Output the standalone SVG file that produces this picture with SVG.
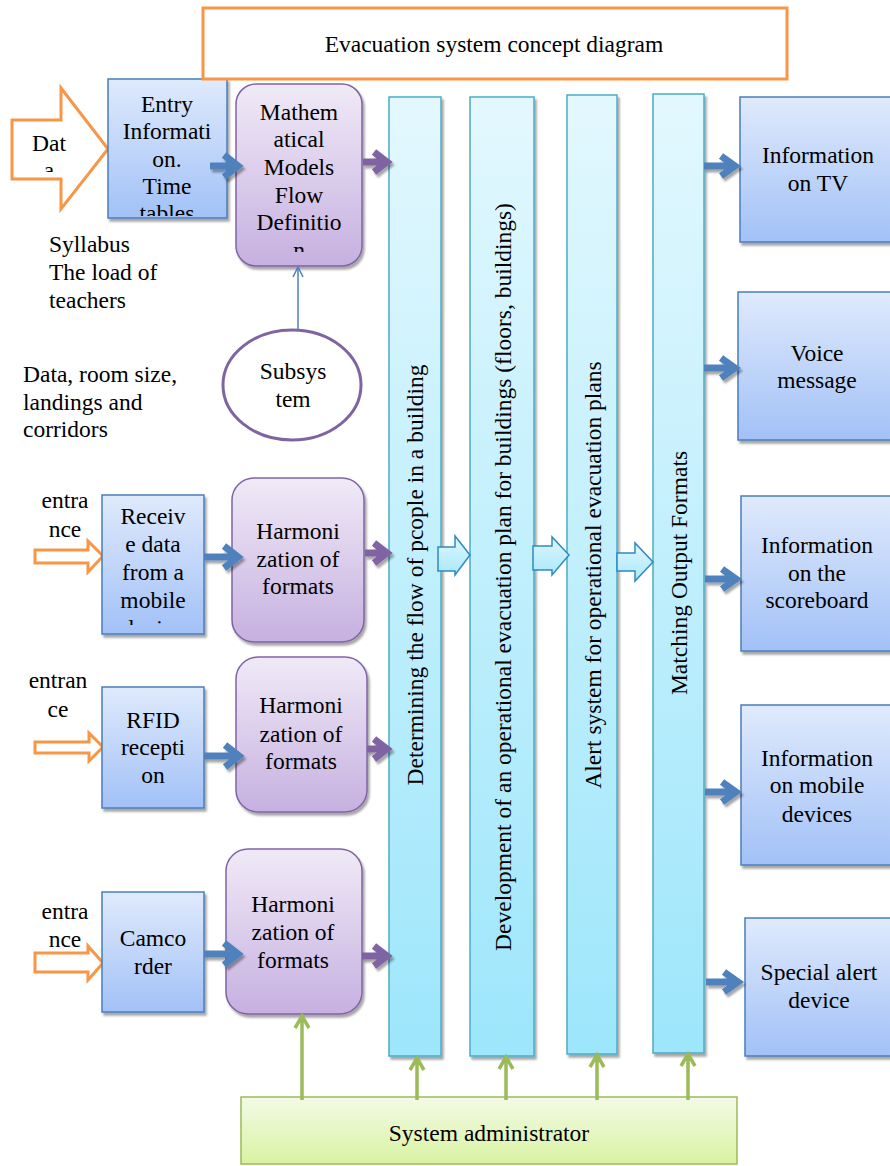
<svg xmlns="http://www.w3.org/2000/svg" width="890" height="1166" viewBox="0 0 890 1166" font-family="'Liberation Serif', Tinos, 'Times New Roman', 'DejaVu Serif', serif">
<defs>
<linearGradient id="gBlue" x1="0" y1="0" x2="0" y2="1"><stop offset="0" stop-color="#DFEAFC"/><stop offset="1" stop-color="#A2C1F7"/></linearGradient>
<linearGradient id="gPurple" x1="0" y1="0" x2="0" y2="1"><stop offset="0" stop-color="#F0EAF7"/><stop offset="1" stop-color="#C6B0E0"/></linearGradient>
<linearGradient id="gCyan" x1="0" y1="0" x2="0" y2="1"><stop offset="0" stop-color="#E3F8FE"/><stop offset="1" stop-color="#9DE6FB"/></linearGradient>
<linearGradient id="gGreen" x1="0" y1="0" x2="0" y2="1"><stop offset="0" stop-color="#F3FAE6"/><stop offset="1" stop-color="#D8F3A2"/></linearGradient>
<linearGradient id="gBlock" x1="0" y1="0" x2="0" y2="1"><stop offset="0" stop-color="#E0F7FE"/><stop offset="1" stop-color="#A8E8FB"/></linearGradient>
<filter id="sh" x="-10%" y="-10%" width="130%" height="130%"><feDropShadow dx="2" dy="3" stdDeviation="1.2" flood-color="#000" flood-opacity="0.35"/></filter>
<marker id="thinHead" viewBox="0 0 12 12" refX="11" refY="6" markerWidth="12" markerHeight="12" markerUnits="userSpaceOnUse" orient="auto"><path d="M1 1 L11 6 L1 11" fill="none" stroke="#4F81BD" stroke-width="1.5"/></marker>
<clipPath id="cDat"><rect x="12" y="120" width="90" height="52"/></clipPath>
<clipPath id="cEntry"><rect x="108" y="79" width="119" height="137"/></clipPath>
<clipPath id="cMath"><rect x="236" y="84" width="126" height="168"/></clipPath>
<clipPath id="cRecv"><rect x="102" y="495" width="102" height="130"/></clipPath>
</defs>
<style>
text{font-family:'Liberation Serif',Tinos,'Times New Roman','DejaVu Serif',serif;font-size:23.5px;fill:#000}
.c{text-anchor:middle}
.blue{fill:url(#gBlue);stroke:#4A7EBB;stroke-width:1.5}
.purple{fill:url(#gPurple);stroke:#8064A2;stroke-width:1.5}
.col{fill:url(#gCyan);stroke:#4BACC6;stroke-width:1.5}
.orange{fill:#fff;stroke:#F79646;stroke-width:3}
.ba{fill:none;stroke:#4F81BD;stroke-width:7}
.pa{fill:none;stroke:#8064A2;stroke-width:7}
.ga{fill:none;stroke:#9BBB59;stroke-width:3.5}
.blk{fill:url(#gBlock);stroke:#2F89C6;stroke-width:1.5}
</style>

<!-- Data arrow -->
<g id="dataArrow">
<polygon class="orange" points="12,120 61,120 61,88 108,149 61,209 61,179 12,179"/>
<g clip-path="url(#cDat)"><text class="c" x="49" y="151">Dat</text><text class="c" x="49" y="178">a</text></g>
</g>

<!-- Entry information -->
<g id="entryInfo">
<rect class="blue" x="108" y="79" width="119" height="139" filter="url(#sh)"/>
<g clip-path="url(#cEntry)">
<text class="c" x="167" y="112">Entry</text>
<text class="c" x="167" y="139">Informati</text>
<text class="c" x="167" y="167">on.</text>
<text class="c" x="167" y="194">Time</text>
<text class="c" x="167" y="221">tables</text>
</g>
</g>

<!-- Title -->
<g id="title">
<rect x="203" y="8" width="584" height="71" fill="#fff" stroke="#F79646" stroke-width="3"/>
<text class="c" x="494" y="52">Evacuation system concept diagram</text>
</g>

<!-- Math models -->
<g id="mathModels">
<rect class="purple" x="236" y="84" width="126" height="182" rx="20" filter="url(#sh)"/>
<g clip-path="url(#cMath)">
<text class="c" x="299" y="120">Mathem</text>
<text class="c" x="299" y="147">atical</text>
<text class="c" x="299" y="175">Models</text>
<text class="c" x="299" y="203">Flow</text>
<text class="c" x="299" y="230">Definitio</text>
<text class="c" x="299" y="258">n</text>
</g>
</g>

<!-- Free texts -->
<g id="syllabusText">
<text x="49" y="252">Syllabus</text>
<text x="49" y="280">The load of</text>
<text x="49" y="308">teachers</text>
</g>
<g id="roomText">
<text x="23" y="382">Data, room size,</text>
<text x="23" y="410">landings and</text>
<text x="23" y="437">corridors</text>
</g>

<!-- Subsystem -->
<g id="subsystem">
<ellipse cx="292" cy="385" rx="69" ry="55" fill="#fff" stroke="#8064A2" stroke-width="3"/>
<text class="c" x="293" y="379">Subsys</text>
<text class="c" x="293" y="407">tem</text>
</g>

<!-- Row 2 -->
<g id="entrance1">
<text class="c" x="65" y="508">entra</text>
<text class="c" x="65" y="537">nce</text>
<polygon class="orange" points="35,550 88,550 88,541 103,556 88,572 88,563 35,563"/>
</g>
<g id="receiveData">
<rect class="blue" x="102" y="495" width="102" height="139" filter="url(#sh)"/>
<g clip-path="url(#cRecv)">
<text class="c" x="153" y="524">Receiv</text>
<text class="c" x="153" y="552">e data</text>
<text class="c" x="153" y="580">from a</text>
<text class="c" x="153" y="608">mobile</text>
<text class="c" x="153" y="636">device</text>
</g>
</g>
<g id="harm1">
<rect class="purple" x="232" y="478" width="132" height="164" rx="22" filter="url(#sh)"/>
<text class="c" x="298" y="539">Harmoni</text>
<text class="c" x="298" y="567">zation of</text>
<text class="c" x="298" y="594">formats</text>
</g>

<!-- Row 3 -->
<g id="entrance2">
<text class="c" x="58" y="688">entran</text>
<text class="c" x="58" y="717">ce</text>
<polygon class="orange" points="35,742 89,742 89,733 103,747 89,761 89,753 35,753"/>
</g>
<g id="rfid">
<rect class="blue" x="102" y="687" width="102" height="121" filter="url(#sh)"/>
<text class="c" x="153" y="728">RFID</text>
<text class="c" x="153" y="755">recepti</text>
<text class="c" x="153" y="783">on</text>
</g>
<g id="harm2">
<rect class="purple" x="236" y="657" width="131" height="155" rx="22" filter="url(#sh)"/>
<text class="c" x="301" y="713">Harmoni</text>
<text class="c" x="301" y="742">zation of</text>
<text class="c" x="301" y="769">formats</text>
</g>

<!-- Row 4 -->
<g id="entrance3">
<text class="c" x="65" y="919">entra</text>
<text class="c" x="65" y="947">nce</text>
<polygon class="orange" points="35,953 88,953 88,946 103,963 88,980 88,972 35,972"/>
</g>
<g id="camcorder">
<rect class="blue" x="102" y="892" width="102" height="120" filter="url(#sh)"/>
<text class="c" x="153" y="946">Camco</text>
<text class="c" x="153" y="974">rder</text>
</g>
<g id="harm3">
<rect class="purple" x="226" y="849" width="136" height="165" rx="22" filter="url(#sh)"/>
<text class="c" x="293" y="912">Harmoni</text>
<text class="c" x="293" y="940">zation of</text>
<text class="c" x="293" y="968">formats</text>
</g>

<!-- Columns -->
<g id="col1">
<rect class="col" x="389" y="97" width="52" height="959" filter="url(#sh)"/>
<text class="c" transform="translate(415,575) rotate(-90)" dy="8">Determining the flow of pcople in a building</text>
</g>
<g id="col2">
<rect class="col" x="470" y="97" width="64" height="959" filter="url(#sh)"/>
<text class="c" transform="translate(503,577) rotate(-90)" dy="8">Development of an operational evacuation plan for buildings (floors, buildings)</text>
</g>
<g id="col3">
<rect class="col" x="567" y="95" width="50" height="959" filter="url(#sh)"/>
<text class="c" transform="translate(593,575) rotate(-90)" dy="8">Alert system for operational evacuation plans</text>
</g>
<g id="col4">
<rect class="col" x="653" y="94" width="51" height="959" filter="url(#sh)"/>
<text class="c" transform="translate(679,573) rotate(-90)" dy="8">Matching Output Formats</text>
</g>

<!-- Outputs -->
<g id="outTV">
<rect class="blue" x="740" y="97" width="155" height="145" filter="url(#sh)"/>
<text class="c" x="818" y="163">Information</text>
<text class="c" x="818" y="191">on TV</text>
</g>
<g id="outVoice">
<rect class="blue" x="738" y="292" width="157" height="148" filter="url(#sh)"/>
<text class="c" x="817" y="361">Voice</text>
<text class="c" x="817" y="388">message</text>
</g>
<g id="outScore">
<rect class="blue" x="741" y="496" width="154" height="155" filter="url(#sh)"/>
<text class="c" x="817" y="553">Information</text>
<text class="c" x="817" y="581">on the</text>
<text class="c" x="817" y="608">scoreboard</text>
</g>
<g id="outMobile">
<rect class="blue" x="741" y="705" width="154" height="160" filter="url(#sh)"/>
<text class="c" x="817" y="766">Information</text>
<text class="c" x="817" y="793">on mobile</text>
<text class="c" x="817" y="822">devices</text>
</g>
<g id="outSpecial">
<rect class="blue" x="745" y="918" width="150" height="138" filter="url(#sh)"/>
<text class="c" x="819" y="980">Special alert</text>
<text class="c" x="819" y="1008">device</text>
</g>

<!-- Admin -->
<g id="admin">
<rect x="241" y="1097" width="496" height="67" fill="url(#gGreen)" stroke="#9BBB59" stroke-width="1.5"/>
<text class="c" x="489" y="1141">System administrator</text>
</g>

<!-- Connectors -->
<g id="connectors">
<g filter="url(#sh)">
<path class="ba" d="M210 166 H236 M224 155 L238 166 L224 177"/>
<path class="ba" d="M204 557 H236 M224 546 L238 557 L224 568"/>
<path class="ba" d="M204 756 H237 M225 745 L239 756 L225 767"/>
<path class="ba" d="M204 954 H236 M224 943 L238 954 L224 965"/>
<path class="ba" d="M704 166 H733 M721 156 L735 166 L721 176"/>
<path class="ba" d="M704 368 H733 M721 358 L735 368 L721 378"/>
<path class="ba" d="M705 579 H734 M722 569 L736 579 L722 589"/>
<path class="ba" d="M705 792 H734 M722 782 L736 792 L722 802"/>
<path class="ba" d="M706 982 H736 M724 972 L738 982 L724 992"/>
<path class="pa" d="M363 162 H385 M374 152 L387 162 L374 172"/>
<path class="pa" d="M365 553 H385 M374 543 L387 553 L374 563"/>
<path class="pa" d="M367 749 H385 M374 739 L387 749 L374 759"/>
<path class="pa" d="M362 956 H385 M374 946 L387 956 L374 966"/>
</g>
<polygon class="blk" points="438,547 455,547 455,536 470,555 455,575 455,571 438,571"/>
<polygon class="blk" points="533,546 552,546 552,537 569,555 552,575 552,570 533,570"/>
<polygon class="blk" points="617,553 635,553 635,543 653,562 635,581 635,571 617,571"/>
<line x1="298" y1="330" x2="298" y2="267" stroke="#4F81BD" stroke-width="1.5" marker-end="url(#thinHead)"/>
<path class="ga" d="M302 1100 V1017 M295 1028 L302 1016 L309 1028"/>
<path class="ga" d="M417 1100 V1059 M410 1070 L417 1058 L424 1070"/>
<path class="ga" d="M506 1100 V1058 M499 1069 L506 1057 L513 1069"/>
<path class="ga" d="M597 1100 V1056 M590 1067 L597 1055 L604 1067"/>
<path class="ga" d="M688 1100 V1055 M681 1066 L688 1054 L695 1066"/>
</g>
</svg>
